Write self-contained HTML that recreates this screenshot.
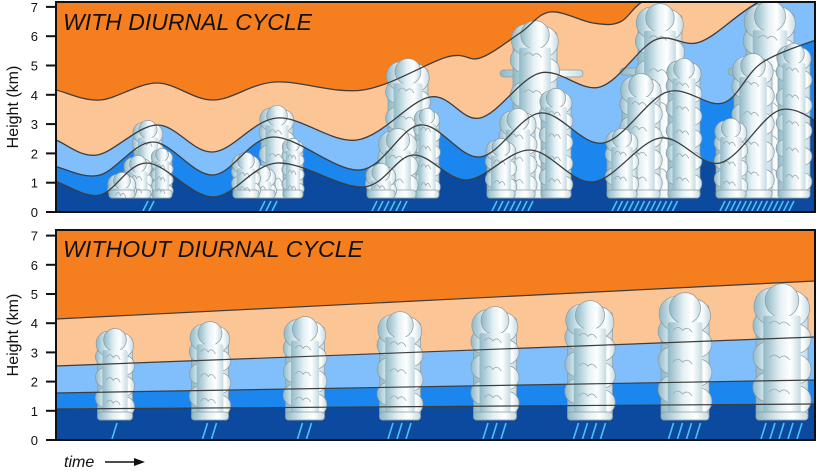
<!DOCTYPE html>
<html><head><meta charset="utf-8"><style>
html,body{margin:0;padding:0;background:#fff;width:820px;height:473px;overflow:hidden}
svg{display:block}
text{font-family:"Liberation Sans",Arial,sans-serif}
</style></head><body>
<svg id="s" width="820" height="473" viewBox="0 0 820 473" xmlns="http://www.w3.org/2000/svg">
<defs>
<linearGradient id="g" x1="0" x2="1" y1="0" y2="0">
<stop offset="0" stop-color="#8fb8c6"/><stop offset="0.45" stop-color="#e3f0f4"/><stop offset="0.72" stop-color="#ffffff"/><stop offset="1" stop-color="#c4dae2"/>
</linearGradient>
<clipPath id="c1"><rect x="56" y="2" width="759" height="210"/></clipPath>
<clipPath id="c2"><rect x="56" y="230" width="759" height="210"/></clipPath>
</defs>
<g id="top" clip-path="url(#c1)"></g>
<g id="bot" clip-path="url(#c2)"></g>
<rect x="56" y="2" width="759" height="210" fill="none" stroke="#111" stroke-width="2"/>
<rect x="56" y="230" width="759" height="210" fill="none" stroke="#111" stroke-width="2"/>
<g id="ax"></g>
<text x="63" y="30" font-size="23" font-style="italic" fill="#111" textLength="249">WITH DIURNAL CYCLE</text>
<text x="63" y="257" font-size="23" font-style="italic" fill="#111" textLength="300">WITHOUT DIURNAL CYCLE</text>
<text transform="translate(18,107) rotate(-90)" font-size="16" text-anchor="middle" fill="#111">Height (km)</text>
<text transform="translate(18,335) rotate(-90)" font-size="16" text-anchor="middle" fill="#111">Height (km)</text>
<text x="64" y="467" font-size="16" font-style="italic" fill="#111">time</text>
<line x1="105" y1="462" x2="137" y2="462" stroke="#111" stroke-width="1.5"/>
<polygon points="145,462 134,458 134,466" fill="#111"/>
</svg>
<script>
var NS="http://www.w3.org/2000/svg";
function el(p,t,a){var e=document.createElementNS(NS,t);for(var k in a)e.setAttribute(k,a[k]);p.appendChild(e);return e;}
function cr(p){var d="M"+p[0][0]+","+p[0][1];for(var i=0;i<p.length-1;i++){var p0=p[i-1]||p[i],p1=p[i],p2=p[i+1],p3=p[i+2]||p2;
d+=" C"+(p1[0]+(p2[0]-p0[0])/6)+","+(p1[1]+(p2[1]-p0[1])/6)+" "+(p2[0]-(p3[0]-p1[0])/6)+","+(p2[1]-(p3[1]-p1[1])/6)+" "+p2[0]+","+p2[1];}return d;}
var T=document.getElementById("top"),B=document.getElementById("bot"),AX=document.getElementById("ax");
var cols=["#fcc596","#80befc","#1c86ef","#0b4a9e"];
el(T,"rect",{x:56,y:0,width:760,height:215,fill:"#f57f1f"});
var A=[[40,88],[56,90],[100,100],[157,83],[213,100],[275,82],[363,90],[447,57],[480,58],[520,33],[550,12],[593,23],[620,22],[645,0],[700,-25],[830,-40]];
var Bb=[[40,135],[56,140],[97,155],[157,125],[213,152],[277,118],[357,140],[430,97],[480,118],[540,73],[600,87],[655,40],[700,42],[757,3],[830,-30]];
var C=[[40,162],[57,167],[100,175],[153,142],[213,175],[273,137],[360,170],[420,125],[480,157],[540,113],[603,143],[667,92],[723,103],[763,62],[830,35]];
var D=[[40,178],[57,182],[100,195],[147,163],[213,197],[277,163],[363,187],[413,155],[467,180],[530,150],[593,182],[660,138],[720,163],[780,110],[830,130]];
var L=[A,Bb,C,D];
L.forEach(function(p,i){el(T,"path",{d:cr(p)+" L830,230 L40,230 Z",fill:cols[i]});});
function column(g,cx,w,top,base){
  var sg=el(g,"g",{stroke:"#8c9aa0","stroke-width":"0.7",fill:"url(#g)"});
  var r=w*0.45;
  el(sg,"rect",{x:cx-w/2,y:top+r*0.6,width:w,height:base-top-r*0.6,rx:3});
  var n=Math.max(1,Math.round((base-top-r)/(w*0.8)));
  var sr=w*0.28;
  for(var k=0;k<n;k++){var yy=top+r*1.3+(k+0.4)*(base-top-r*1.3-sr)/n;
    el(sg,"circle",{cx:cx-w/2+w*0.22,cy:yy,r:sr});
    el(sg,"circle",{cx:cx+w/2-w*0.22,cy:Math.min(yy+w*0.25,base-sr),r:sr});}
  el(sg,"circle",{cx:cx-w*0.18,cy:top+r*1.0,r:r*0.8});
  el(sg,"circle",{cx:cx+w*0.18,cy:top+r*1.1,r:r*0.78});
  el(sg,"circle",{cx:cx,cy:top+r*0.75,r:r*0.72});
  el(sg,"rect",{x:cx-w/2+w*0.14,y:top+r*1.4,width:w*0.72,height:base-top-r*1.4-1,rx:2,stroke:"none"});
  el(sg,"rect",{x:cx-w/2,y:base-8,width:w,height:8,rx:3});
  for(var k=0;k<n;k++){var yy=top+r*1.5+k*(base-top-r*1.5)/n;
  el(g,"path",{d:"M"+(cx-w*0.25)+","+(yy+6)+" q"+(w*0.1)+",-6 "+(w*0.2)+",0 q"+(w*0.1)+",-5 "+(w*0.2)+",2",fill:"none",stroke:"#9aa8ad","stroke-width":"0.8"});}
}
function rain(g,x0,n,yb,yt,sp){for(var i=0;i<n;i++){el(g,"line",{x1:x0+i*sp,y1:yb,x2:x0+i*sp+5,y2:yt,stroke:"#4ec0f5","stroke-width":"1.6"});}}
var storms=[
 {c:[[148,28,120],[162,20,148],[138,26,155],[122,26,172]],an:null,r:[143,2,6]},
 {c:[[277,32,105],[293,20,138],[262,26,165],[246,26,152]],an:null,r:[260,3,6]},
 {c:[[408,40,58],[427,24,108],[398,36,128],[381,28,163]],an:null,r:[372,6,6]},
 {c:[[535,44,20],[556,30,88],[518,34,108],[501,28,138]],an:[500,583,70],r:[492,7,6]},
 {c:[[660,44,3],[684,32,58],[641,38,73],[622,30,128]],an:[620,700,68],r:[612,12,5.5]},
 {c:[[770,48,0],[794,32,43],[753,38,53],[731,30,118]],an:[728,810,68],r:[720,14,5.3]}
];
storms.forEach(function(s){
  if(s.an){el(T,"rect",{x:s.an[0],y:s.an[2],width:s.an[1]-s.an[0],height:7,rx:3.5,fill:"url(#g)",stroke:"#8c9aa0","stroke-width":"0.7"});}
  s.c.forEach(function(c){column(T,c[0],c[1],c[2],198);});
  rain(T,s.r[0],s.r[1],211,201,s.r[2]);
});
L.forEach(function(p){el(T,"path",{d:cr(p),fill:"none",stroke:"#3d3d3d","stroke-width":"1.3"});});
el(B,"rect",{x:56,y:228,width:760,height:215,fill:"#f57f1f"});
var BL=[[319,281],[366,337],[393,380],[409,404]];
BL.forEach(function(p,i){el(B,"polygon",{points:"50,"+p[0]+" 820,"+p[1]+" 820,445 50,445",fill:cols[i]});});
var bc=[[115,35,328,1],[210,37,321,2],[305,39,316,2],[400,41,311,3],[495,43,306,3],[590,45,300,4],[685,48,292,4],[782,52,283,5]];
bc.forEach(function(c){column(B,c[0],c[1],c[2],420);rain(B,c[0]-(c[3]-1)*4.5-3,c[3],439,423,9);});
BL.forEach(function(p){el(B,"line",{x1:56,y1:p[0],x2:815,y2:p[1],stroke:"#3d3d3d","stroke-width":"1.2"});});
function axis(y0,k){for(var i=0;i<=7;i++){var y=y0-i*k;el(AX,"line",{x1:46,y1:y,x2:56,y2:y,stroke:"#111","stroke-width":"2"});
 var t=el(AX,"text",{x:38,y:y+5,"font-size":"13","text-anchor":"end",fill:"#111"});t.textContent=i;}}
axis(212,29.3);axis(440,29.2);
</script>
</body></html>
